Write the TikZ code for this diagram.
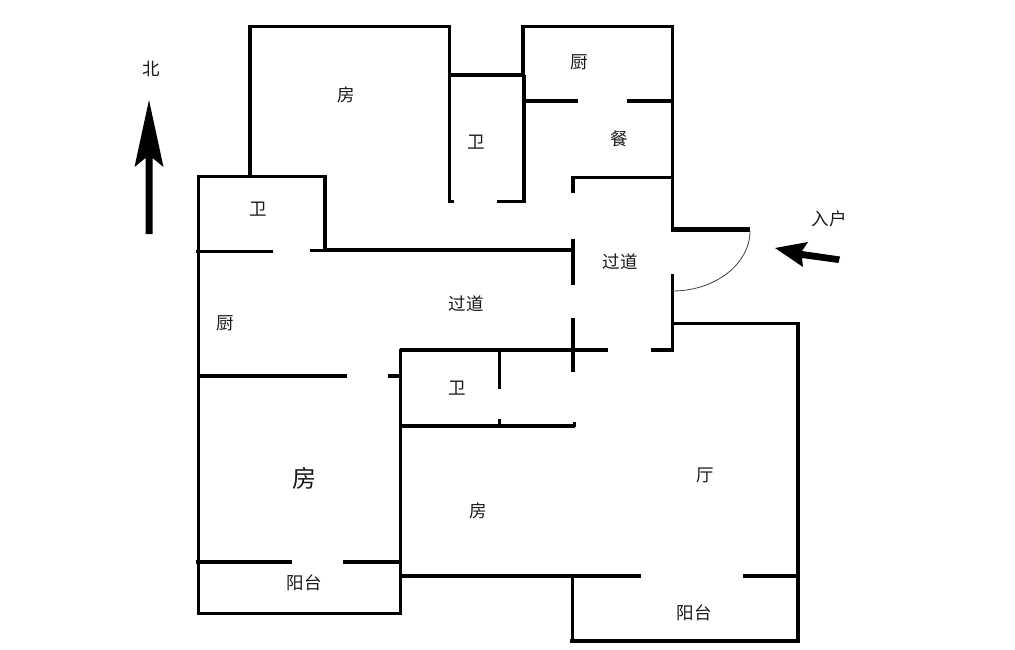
\documentclass[tikz,border=0pt]{standalone}
\usepackage{fontspec}
\setmainfont{Noto Sans CJK SC}
\tikzset{
  wall/.style={draw=black,line width=3.3pt,line cap=butt,line join=miter},
  thick wall/.style={draw=black,line width=4.8pt,line cap=butt,line join=miter},
  swing/.style={draw=black!75,line width=0.8pt},
  room/.style={inner sep=0pt,text=black!90,font=\fontsize{17.5}{19}\selectfont},
  bigroom/.style={inner sep=0pt,text=black!90,font=\fontsize{24}{26}\selectfont},
  compass/.style={fill=black,draw=none}
}
\begin{document}
\begin{tikzpicture}[x=1pt,y=-1pt]
\useasboundingbox (0,0) rectangle (1015,650);
\fill[white] (0,0) rectangle (1015,650);
% outer left part
\draw[wall] (198.5,613.5) -- (198.5,176.5) -- (325,176.5) -- (325,252);
\draw[wall] (250,176.5) -- (250,26.5) -- (450,26.5);
\draw[wall] (449.5,25) -- (449.5,203);
\draw[wall] (448,201.5) -- (454,201.5);
\draw[wall] (449,75) -- (525,75);
\draw[wall] (524,75) -- (524,202.5);
\draw[wall] (497,201.5) -- (525.5,201.5);
% kitchen and dining
\draw[wall] (523,75) -- (523,26.5) -- (673,26.5);
\draw[wall] (672.5,25) -- (672.5,230);
\draw[wall] (525,101) -- (578,101);
\draw[wall] (627,101) -- (672,101);
\draw[wall] (573,193) -- (573,177.5) -- (672,177.5);
% corridor
\draw[wall] (196,251.5) -- (273,251.5);
\draw[wall] (310,250.5) -- (327,250.5);
\draw[wall] (325,250) -- (572,250);
\draw[wall] (573,239) -- (573,285);
\draw[wall] (573,318) -- (573,372);
\draw[thick wall] (670.5,229.5) -- (750,229.5);
\draw[wall] (672.5,274) -- (672.5,351.5);
\draw[swing] (750,231) .. controls (750,264) and (715,291) .. (672.5,291);
\draw[wall] (672,323.5) -- (798,323.5) -- (798,641);
\draw[wall] (400,350) -- (608,350);
\draw[wall] (651,350) -- (672,350);
% lower rooms
\draw[wall] (400.5,348.5) -- (400.5,613.5);
\draw[wall] (198,376) -- (347,376);
\draw[wall] (388,376) -- (400,376);
\draw[wall] (499.5,350) -- (499.5,389);
\draw[wall] (499.5,419) -- (499.5,426);
\draw[wall] (400,426) -- (575,426);
\draw[wall] (574.5,427) -- (574.5,422);
\draw[wall] (196,562) -- (292,562);
\draw[wall] (343,562) -- (400,562);
\draw[wall] (197,613.5) -- (402,613.5);
\draw[wall] (400,576) -- (573,576);
\draw[wall] (572,576) -- (641,576);
\draw[wall] (743,576) -- (798,576);
\draw[wall] (572.5,576) -- (572.5,642);
\draw[wall] (570,641) -- (799.5,641);
% arrows
\fill[compass] (145.5,234) -- (145.5,158) -- (134.5,167) -- (149,100) -- (163.5,167) -- (152.5,158) -- (152.5,234) -- cycle;
\fill[compass] (775,248) -- (808,242) -- (802,251) -- (840,256.5) -- (838.5,263) -- (802,258) -- (803,267) -- cycle;
% labels
\node[room] (north) at (151,69) {北};
\node[room] (entry) at (829,219) {入户};
\node[room] (r1) at (346,95) {房};
\node[room] (r2) at (476,142) {卫};
\node[room] (r3) at (579,62) {厨};
\node[room] (r4) at (619,139) {餐};
\node[room] (r5) at (258,209) {卫};
\node[room] (r6) at (620,262) {过道};
\node[room] (r7) at (466,304) {过道};
\node[room] (r8) at (225,323) {厨};
\node[room] (r9) at (457,388) {卫};
\node[bigroom] (r10) at (304,478) {房};
\node[room] (r11) at (478,511) {房};
\node[room] (r12) at (705,475) {厅};
\node[room] (r13) at (304,583) {阳台};
\node[room] (r14) at (694,613) {阳台};
\end{tikzpicture}
\end{document}
